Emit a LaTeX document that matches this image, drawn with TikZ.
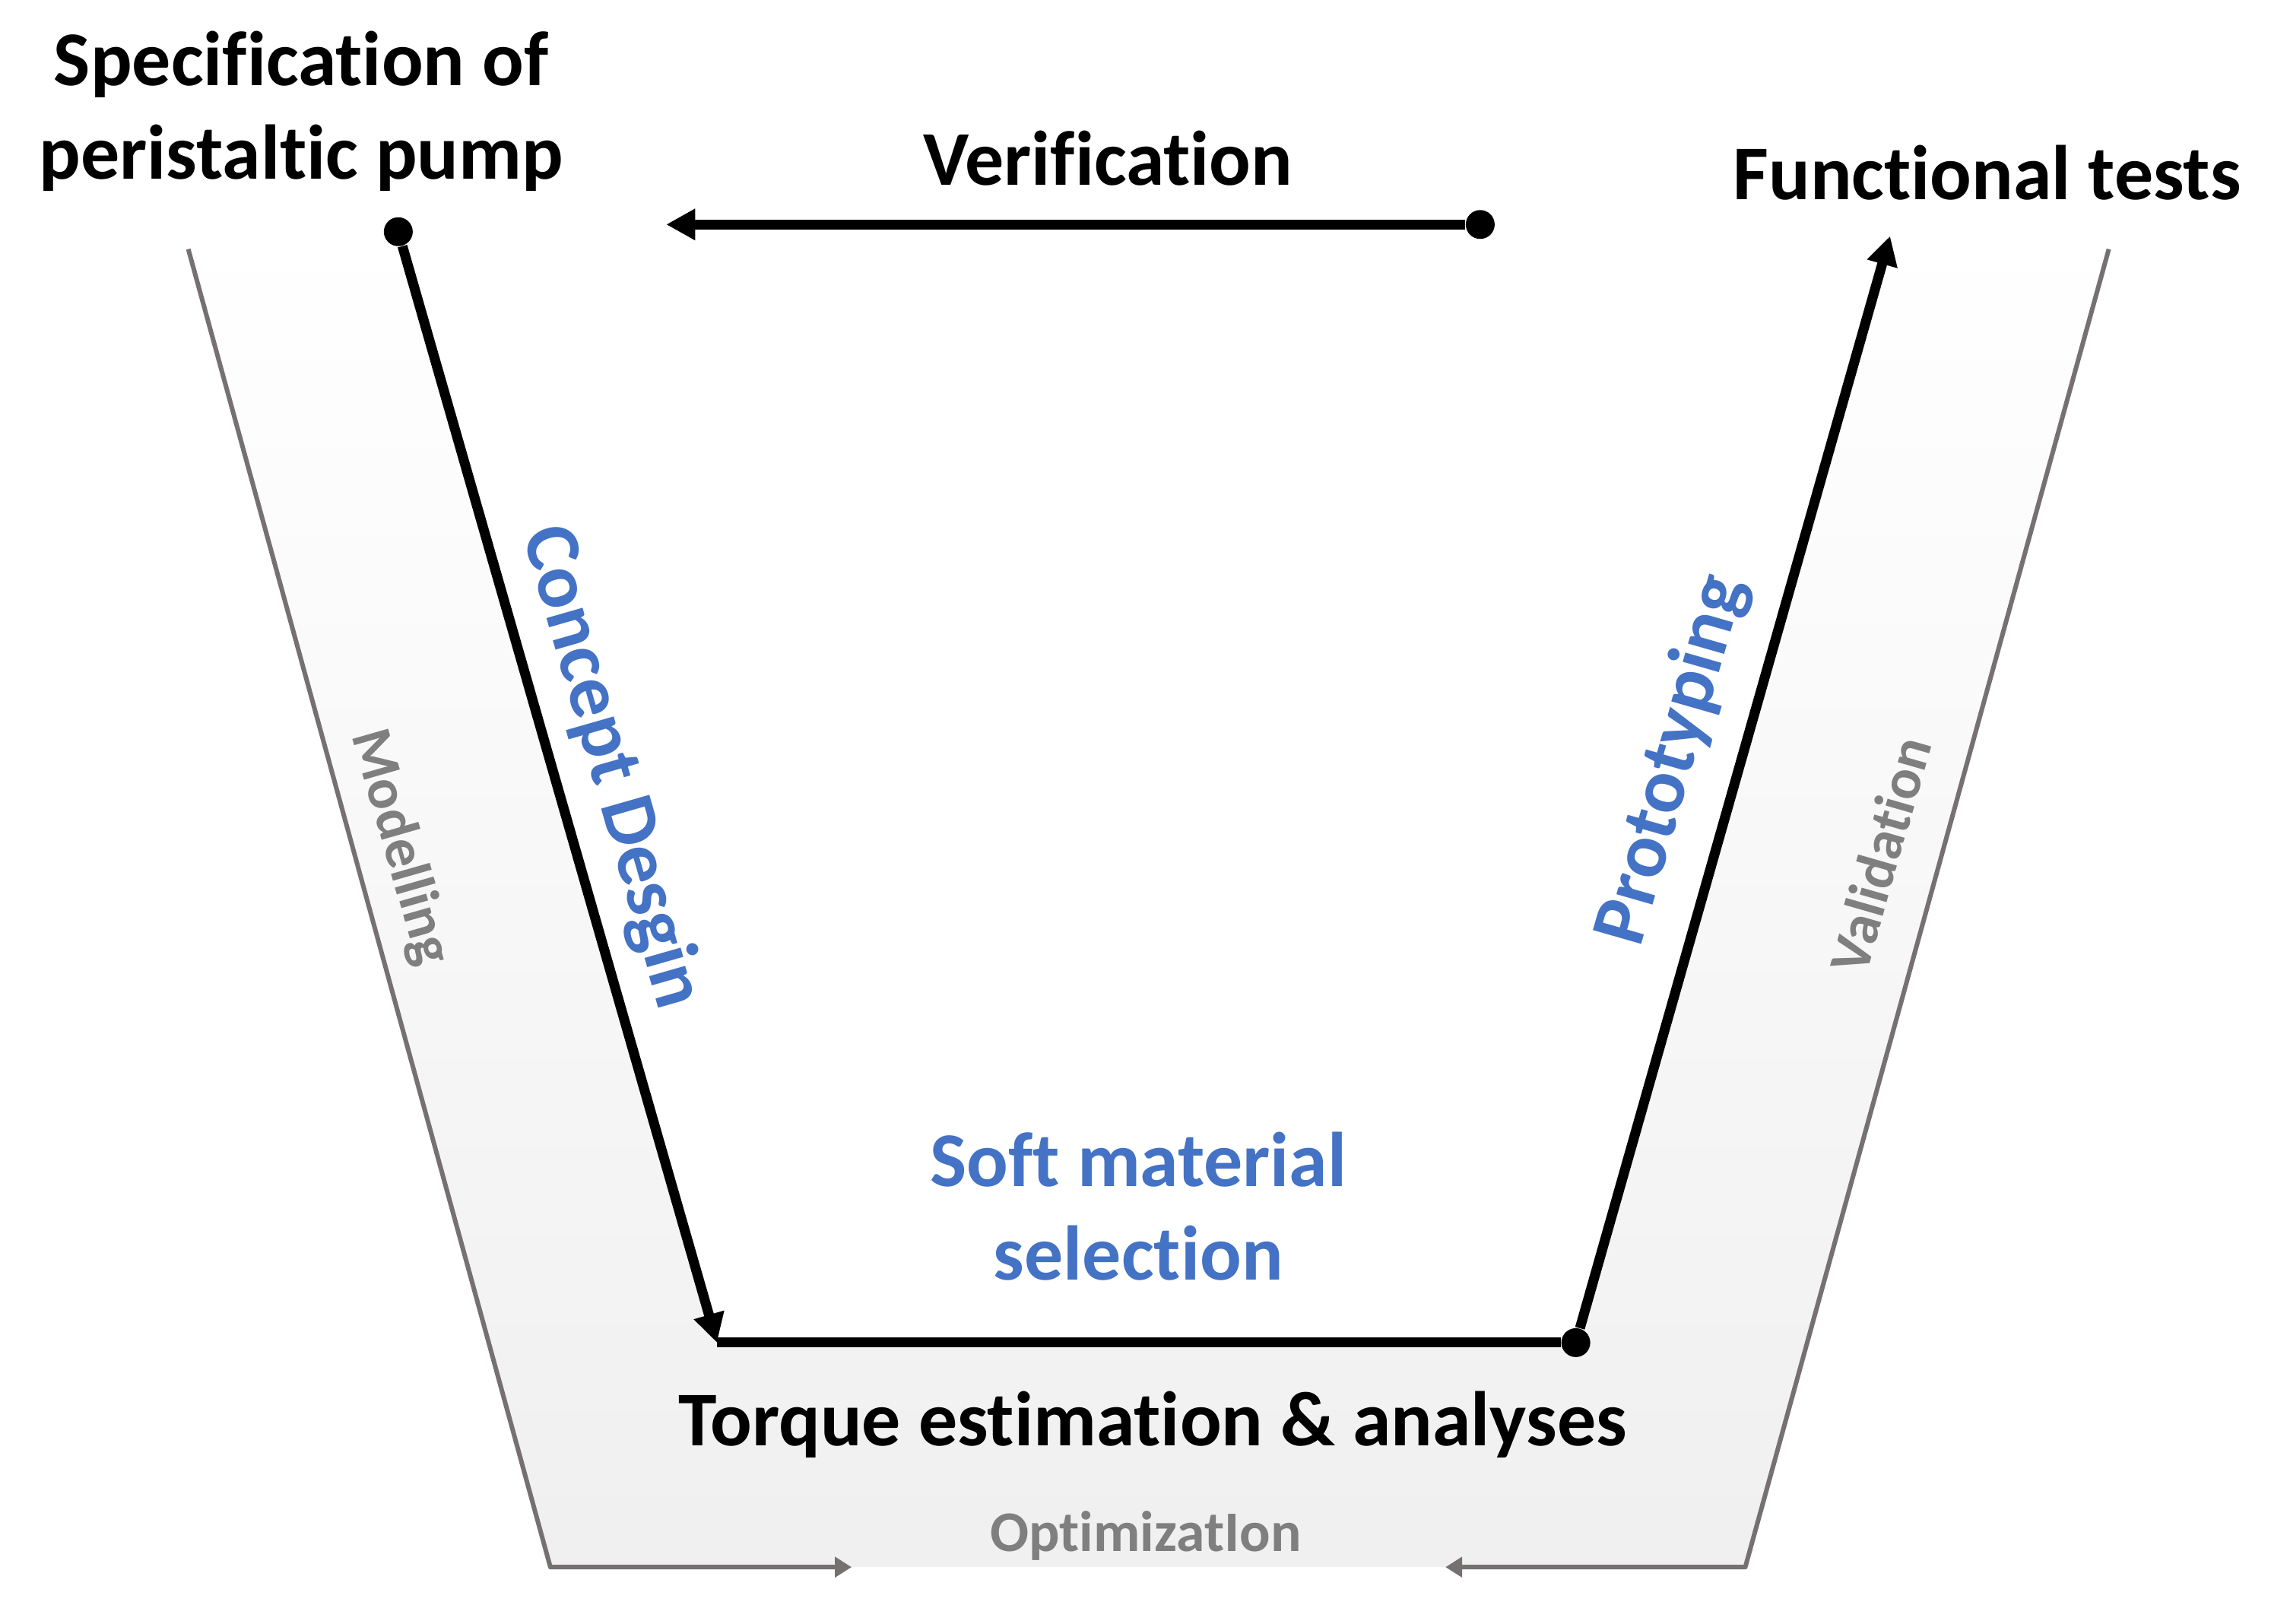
\documentclass[tikz,border=0pt]{standalone}
\usepackage{fontspec}
\setmainfont{Carlito}[Ligatures=NoCommon]
\usetikzlibrary{arrows.meta}
\usetikzlibrary{backgrounds}
\definecolor{stepblue}{HTML}{4472C4}
\definecolor{railgray}{HTML}{767171}
\definecolor{notegray}{HTML}{7F7F7F}

\begin{document}
\begin{tikzpicture}[x=0.1905mm,y=-0.1905mm,line join=round,
  big/.style={font=\fontsize{29}{35}\selectfont\bfseries,inner sep=0pt},
  bluelab/.style={big,text=stepblue},
  graylab/.style={font=\fontsize{21.5}{26}\selectfont\bfseries,text=notegray,inner sep=0pt},
  dot/.style={circle,fill=black,inner sep=0pt,minimum size=0.38cm},
  flow/.style={line width=0.13cm,-{Triangle[length=0.38cm,width=0.39cm]}},
  rail/.style={line width=0.06cm,draw=railgray,-{Triangle[length=0.22cm,width=0.26cm]}}]
\useasboundingbox (0,0) rectangle (1568,1121);
%\draw[red] (0,0) rectangle (1568,1121);
\node[dot] (spec) at (275,160) {};
\node[dot] (verif) at (1022,155) {};
\node[dot] (proto) at (1088,927) {};
\coordinate (design) at (495,927);
\coordinate (tests) at (1305,163);
\coordinate (verifend) at (460,155);
\coordinate (mtop) at (130,172);
\coordinate (mbot) at (380,1082);
\coordinate (mend) at (588,1082);
\coordinate (vtop) at (1456,172);
\coordinate (vbot) at (1205,1082);
\coordinate (vend) at (998,1082);
\begin{scope}[on background layer]
\path[top color=white,middle color=black!9,bottom color=black!6]
  (126,158) -- (mbot) -- (vbot) -- (1460,158) -- (1302,158) -- (proto.center)
  -- (design) -- (spec.center) -- cycle;
\end{scope}
\draw[rail] (mtop) -- (mbot) -- (mend);
\draw[rail] (vtop) -- (vbot) -- (vend);
\draw[flow] (spec) -- (design);
\draw[line width=0.13cm] (design) -- (proto);
\draw[flow] (proto) -- (tests);
\draw[flow] (verif) -- (verifend);
\node[big,align=center] (specl) at (208,77) {Specification of\\peristaltic pump};
\node[big,anchor=base] (verifl) at (765,128) {Verification};
\node[big,anchor=base] (testsl) at (1372,138) {Functional tests};
\node[bluelab,rotate=-74] (designl) at (422,530) {Concept Desgin};
\node[bluelab,rotate=74] (protol) at (1155,525) {Prototyping};
\node[bluelab,align=center] (softl) at (786,833) {Soft material\\selection};
\node[big,anchor=base] (torquel) at (796,998) {Torque estimation \& analyses};
\node[graylab,rotate=-74] (modl) at (276,585) {Modelling};
\node[graylab,rotate=74] (vall) at (1298,590) {Validation};
\node[graylab,anchor=base] (optl) at (791,1071) {OptimizatIon};
\end{tikzpicture}
\end{document}
